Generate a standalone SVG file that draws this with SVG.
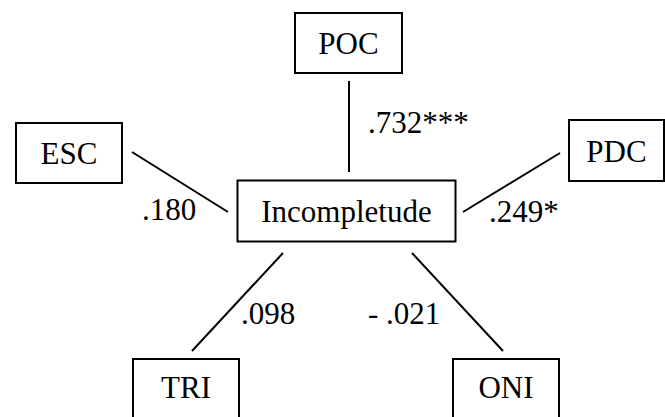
<svg xmlns="http://www.w3.org/2000/svg" width="665" height="417" viewBox="0 0 665 417">
  <style>
    .box { fill: #ffffff; stroke: #000000; stroke-width: 2; }
    .edge { stroke: #000000; stroke-width: 2; fill: none; }
    text { font-family: "Liberation Serif", "DejaVu Serif", serif; font-size: 31px; fill: #000000; }
    .name { text-anchor: middle; }
  </style>
  <rect width="665" height="417" fill="#ffffff"/>

  <!-- connectors with path coefficients -->
  <g id="connectors">
    <line class="edge" x1="349" y1="81" x2="349" y2="172"/>
    <line class="edge" x1="132" y1="152" x2="228" y2="212"/>
    <line class="edge" x1="463" y1="212" x2="560" y2="153"/>
    <line class="edge" x1="283" y1="253" x2="192" y2="351"/>
    <line class="edge" x1="412" y1="253" x2="503" y2="351"/>
    <text x="368" y="133">.732***</text>
    <text x="142" y="220">.180</text>
    <text x="489" y="222">.249*</text>
    <text x="241" y="324">.098</text>
    <text x="368" y="324">- .021</text>
  </g>

  <g id="node-poc">
    <rect class="box" x="295" y="13" width="107" height="60"/>
    <text class="name" x="348.5" y="54">POC</text>
  </g>
  <g id="node-esc">
    <rect class="box" x="16" y="123" width="106" height="60"/>
    <text class="name" x="69" y="164">ESC</text>
  </g>
  <g id="node-pdc">
    <rect class="box" x="569" y="120" width="95" height="61"/>
    <text class="name" x="616.5" y="162">PDC</text>
  </g>
  <g id="node-incompletude">
    <rect class="box" x="237.5" y="180.5" width="218" height="61"/>
    <text class="name" x="346.5" y="222">Incompletude</text>
  </g>
  <g id="node-tri">
    <rect class="box" x="133" y="359" width="106" height="62"/>
    <text class="name" x="186" y="398">TRI</text>
  </g>
  <g id="node-oni">
    <rect class="box" x="453" y="359" width="106" height="62"/>
    <text class="name" x="506" y="398">ONI</text>
  </g>
</svg>
